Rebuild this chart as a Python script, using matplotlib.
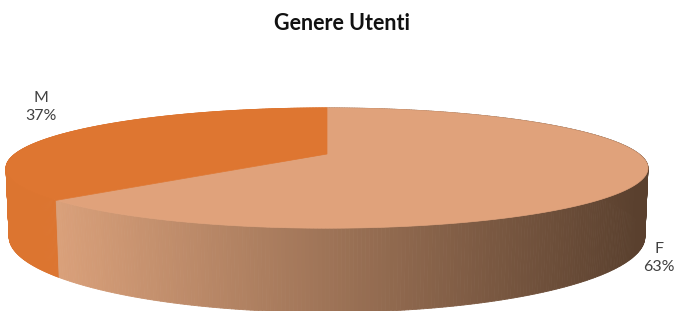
# 3D-looking pie "Genere Utenti" drawn with plain polygons in pixel space
import numpy as np
import matplotlib.pyplot as plt
from matplotlib.collections import PolyCollection
from matplotlib.colors import LinearSegmentedColormap, to_rgb

# data
categories = ['F', 'M']
values = [63, 37]
pct_labels = ['63%', '37%']

top_colors = ['#E0A27B', '#DE7631']
side_colors = ['#D9A07A', '#DC7530']
F_dark = '#5A402E'

# view parameters (fitted to the reference picture)
phi = np.radians(10.5)
s, c = np.sin(phi), np.cos(phi)
D = 4.213
f = 1315.0
H = 0.215
cx0, cy0 = 327.0, 154.0


def proj(X, Y, Z):
    d = D - (Z * c + Y * s)
    u = Y * c - Z * s
    return cx0 + f * X / d, cy0 - f * u / d


fig = plt.figure(figsize=(6.75, 3.11), dpi=100)
ax = fig.add_axes([0, 0, 1, 1])
ax.set_xlim(0, 675)
ax.set_ylim(311, 0)
ax.axis('off')

total = float(sum(values))
starts = []
a = 90.0
for v in values:
    starts.append((a, a - 360.0 * v / total))   # clockwise from 12 o'clock
    a -= 360.0 * v / total

grad = LinearSegmentedColormap.from_list('fside', [side_colors[0], F_dark])

# side walls
quads, qcols, qz = [], [], []
for i, (t0, t1) in enumerate(starts):
    ts = np.radians(np.linspace(t0, t1, 400))
    for k in range(len(ts) - 1):
        ta, tb = ts[k], ts[k + 1]
        pts = []
        for t, Y in [(ta, 0), (tb, 0), (tb, -H), (ta, -H)]:
            pts.append(proj(np.cos(t), Y, -np.sin(t)))
        zm = -np.sin(0.5 * (ta + tb))
        if i == 0:
            xm = np.mean([p[0] for p in pts])
            col = grad(np.clip((xm - 60) / (640 - 60), 0, 1))
        else:
            col = to_rgb(side_colors[i])
        quads.append(pts)
        qcols.append(col)
        qz.append(zm)

order = np.argsort(qz)
pc = PolyCollection([quads[j] for j in order],
                    facecolors=[qcols[j] for j in order],
                    edgecolors=[qcols[j] for j in order], linewidths=0.6)
ax.add_collection(pc)

# top faces
for i, (t0, t1) in enumerate(starts):
    ts = np.radians(np.linspace(t0, t1, 400))
    pts = [proj(0, 0, 0)] + [proj(np.cos(t), 0, -np.sin(t)) for t in ts]
    ax.add_patch(plt.Polygon(pts, closed=True, facecolor=top_colors[i],
                             edgecolor=top_colors[i], linewidth=0.5))

# labels
ax.text(659, 258, categories[0] + '\n' + pct_labels[0], ha='center', va='center',
        fontsize=11.5, color='#404040', family='Lato', linespacing=1.35)
ax.text(41, 107, categories[1] + '\n' + pct_labels[1], ha='center', va='center',
        fontsize=11.5, color='#404040', family='Lato', linespacing=1.35)

ax.text(342, 23, 'Genere Utenti', ha='center', va='center', fontsize=15.5,
        fontweight='bold', color='#111111', family='Lato')

fig.savefig('out.png', dpi=100)
